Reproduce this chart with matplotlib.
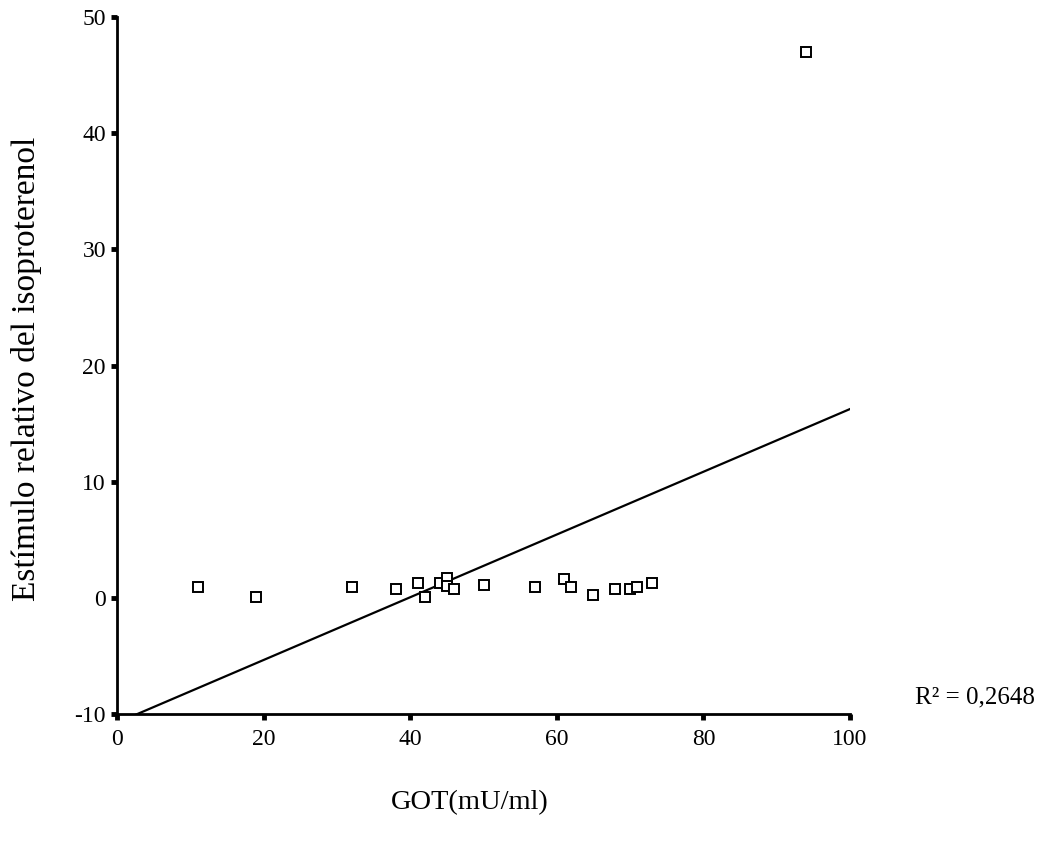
import numpy as np
import matplotlib
matplotlib.use("Agg")
import matplotlib.pyplot as plt

# GOT (mU/ml) vs relative isoproterenol stimulation
got = [11, 19, 32, 38, 41, 42, 44, 45, 45, 46, 50, 57, 61, 62, 65, 68, 70, 71, 73, 94]
estimulo = [0.9, 0.1, 0.9, 0.75, 1.25, 0.1, 1.25, 1.75, 1.05, 0.75, 1.1, 0.9, 1.6, 0.9, 0.25,
            0.75, 0.75, 0.9, 1.25, 47.0]
x_ticks = [0, 20, 40, 60, 80, 100]
y_ticks = [-10, 0, 10, 20, 30, 40, 50]
r2_label = "R\u00b2 = 0,2648"

plt.rcParams["font.family"] = ["Liberation Serif", "DejaVu Serif"]

fig = plt.figure(figsize=(10.42, 8.41), dpi=100)
ax = fig.add_axes([117 / 1042, 127 / 841, 733 / 1042, 697 / 841])

# least-squares fit line across the full axis range
slope, intercept = np.polyfit(got, estimulo, 1)
xs = np.array([0, 100])
ax.plot(xs, slope * xs + intercept, color="black", lw=1.6, zorder=2)

ax.plot(got, estimulo, linestyle="none", marker="s", markersize=7,
        markerfacecolor="white", markeredgecolor="black", markeredgewidth=1.4, zorder=3)

ax.set_xlim(0, 100)
ax.set_ylim(-10, 50)
ax.set_xticks(x_ticks)
ax.set_yticks(y_ticks)
ax.set_xticklabels([str(v) for v in x_ticks])
ax.set_yticklabels([str(v) for v in y_ticks])
ax.tick_params(axis="both", direction="out", length=4, width=3.5, labelsize=17, pad=4)
ax.tick_params(axis="x", pad=7)

for side in ("top", "right"):
    ax.spines[side].set_visible(False)
for side in ("left", "bottom"):
    ax.spines[side].set_linewidth(2)

fig.text(470 / 1042, 1 - 803 / 841, "GOT(mU/ml)", fontsize=20.5, ha="center", va="center")
fig.text(27 / 1042, 1 - 369 / 841, "Estímulo relativo del isoproterenol", fontsize=24,
         rotation=90, ha="center", va="center")
fig.text(975 / 1042, 1 - 697 / 841, r2_label, fontsize=18, ha="center", va="center")

fig.savefig("out.png", dpi=100)
